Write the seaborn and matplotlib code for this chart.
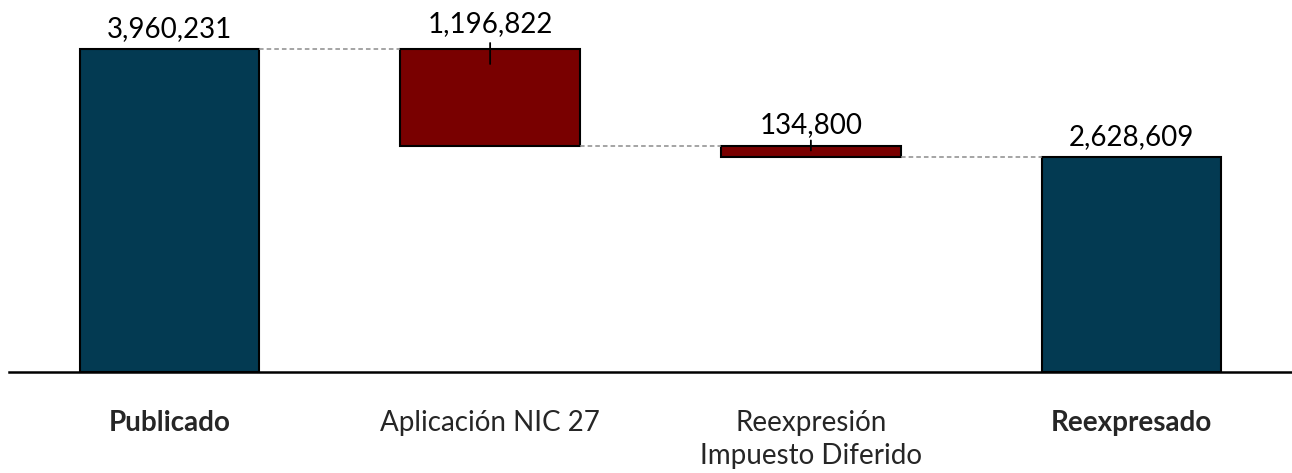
import matplotlib
matplotlib.use('Agg')
import matplotlib.pyplot as plt
import seaborn as sns
import pandas as pd
from matplotlib.transforms import offset_copy

# Datos
categorias = ['Publicado', 'Aplicación NIC 27', 'Reexpresión\nImpuesto Diferido', 'Reexpresado']
valores = [3960231, -1196822, -134800, 2628609]
tipos = ['total', 'delta', 'delta', 'total']
etiquetas = ['3,960,231', '1,196,822', '134,800', '2,628,609']

col_total = '#033a52'
col_delta = '#790000'

# Base y tope de cada barra
bases, topes = [], []
acum = 0
for v, t in zip(valores, tipos):
    if t == 'total':
        bases.append(0)
        topes.append(v)
        acum = v
    else:
        nuevo = acum + v
        bases.append(min(acum, nuevo))
        topes.append(max(acum, nuevo))
        acum = nuevo

df = pd.DataFrame({'cat': categorias, 'tope': topes, 'tipo': tipos})

sns.set_style('white')
plt.rcParams['font.family'] = ['Lato', 'DejaVu Sans']

fig = plt.figure(figsize=(12.92, 4.73), dpi=100)
ax = fig.add_axes([9 / 1292, 101.5 / 473, 1 - 9 / 1292, 371.5 / 473])

sns.barplot(data=df, x='cat', y='tope', hue='tipo',
            palette={'total': col_total, 'delta': col_delta},
            width=0.56, dodge=False, legend=False, ax=ax,
            edgecolor='black', linewidth=1.5, saturation=1)

# barras flotantes
for p in ax.patches:
    i = int(round(p.get_x() + p.get_width() / 2))
    p.set_y(bases[i])
    p.set_height(topes[i] - bases[i])

ax.set_xlim(-0.5, 3.5)
ax.set_ylim(0, 3960231 * 371.5 / 322.5)

# conectores punteados
niveles = []
acum = 0
for v, t in zip(valores, tipos):
    acum = v if t == 'total' else acum + v
    niveles.append(acum)
for i in range(len(valores) - 1):
    ax.plot([i + 0.28, i + 1 - 0.28], [niveles[i], niveles[i]],
            ls=(0, (3, 2)), color='#8c8c8c', lw=1.1, zorder=1)

# etiquetas de valor
for i, (tope, txt, t) in enumerate(zip(topes, etiquetas, tipos)):
    dy = 12
    if t == 'delta':
        largo = 15 if i == 1 else 4
        lo = offset_copy(ax.transData, fig=fig, y=-largo, units='dots')
        hi = offset_copy(ax.transData, fig=fig, y=6, units='dots')
        ax.annotate('', xy=(i, tope), xycoords=lo, xytext=(i, tope), textcoords=hi,
                    arrowprops=dict(arrowstyle='-', color='black', lw=1.3,
                                    shrinkA=0, shrinkB=0))
        dy = 17 if i == 1 else 13
    ax.annotate(txt, xy=(i, tope), xytext=(0, dy * 72 / 100), textcoords='offset points',
                ha='center', va='baseline', fontsize=20, color='black')

# ejes
sns.despine(ax=ax, left=True)
ax.spines['bottom'].set_linewidth(1.8)
ax.spines['bottom'].set_color('black')
ax.set_yticks([])
ax.set_xlabel('')
ax.set_ylabel('')
ax.tick_params(axis='x', length=0, pad=28)
ax.set_xticks(range(len(categorias)))
ax.set_xticklabels(categorias, fontsize=20, linespacing=1.32, va='top')
for lbl, t in zip(ax.get_xticklabels(), tipos):
    if t == 'total':
        lbl.set_fontweight('bold')

fig.savefig('out.png', dpi=100)
